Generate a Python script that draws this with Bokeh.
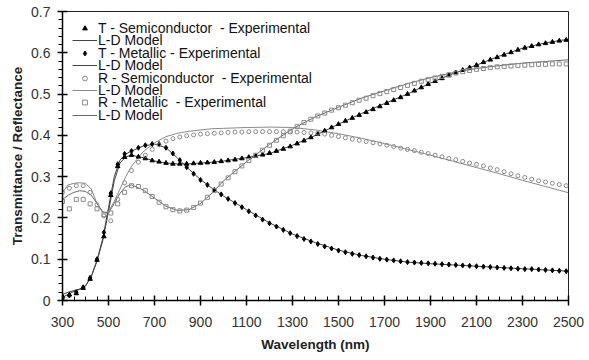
from bokeh.plotting import figure
from bokeh.models import Range1d, FixedTicker, Legend, LegendItem, CustomJSTickFormatter
from bokeh.embed import file_html
from bokeh.resources import INLINE

# ---------------- data ----------------
wl_exp = list(range(300, 2500, 30))  # experimental sampling wavelengths (nm)

t_semi_exp = [0.010, 0.014, 0.017, 0.030, 0.052, 0.098, 0.155, 0.255, 0.325, 0.347,
              0.352, 0.348, 0.344, 0.339, 0.336, 0.333, 0.331, 0.331, 0.331, 0.332,
              0.333, 0.334, 0.335, 0.337, 0.339, 0.341, 0.344, 0.347, 0.350, 0.353,
              0.357, 0.362, 0.367, 0.373, 0.380, 0.387, 0.395, 0.403, 0.411, 0.419,
              0.427, 0.435, 0.442, 0.449, 0.456, 0.463, 0.470, 0.478, 0.485, 0.492,
              0.500, 0.508, 0.516, 0.524, 0.531, 0.538, 0.545, 0.552, 0.558, 0.564,
              0.570, 0.577, 0.583, 0.589, 0.595, 0.601, 0.607, 0.612, 0.616, 0.620,
              0.623, 0.626, 0.629, 0.631]

t_met_exp = [0.004, 0.012, 0.020, 0.032, 0.055, 0.100, 0.165, 0.260, 0.330, 0.355,
             0.362, 0.370, 0.376, 0.379, 0.379, 0.370, 0.356, 0.340, 0.323, 0.307,
             0.292, 0.280, 0.268, 0.257, 0.246, 0.236, 0.226, 0.216, 0.206, 0.196,
             0.187, 0.179, 0.171, 0.163, 0.156, 0.149, 0.143, 0.137, 0.131, 0.126,
             0.121, 0.117, 0.113, 0.110, 0.107, 0.104, 0.101, 0.099, 0.097, 0.095,
             0.093, 0.092, 0.091, 0.090, 0.089, 0.088, 0.087, 0.086, 0.085, 0.084,
             0.083, 0.082, 0.081, 0.080, 0.079, 0.078, 0.077, 0.076, 0.076, 0.075,
             0.074, 0.073, 0.072, 0.071]

r_semi_exp = [0.262, 0.272, 0.278, 0.278, 0.262, 0.232, 0.205, 0.193, 0.245, 0.285,
              0.315, 0.335, 0.352, 0.366, 0.377, 0.386, 0.392, 0.396, 0.399, 0.401,
              0.403, 0.404, 0.405, 0.406, 0.407, 0.408, 0.408, 0.409, 0.409, 0.409,
              0.409, 0.409, 0.409, 0.408, 0.408, 0.407, 0.406, 0.405, 0.403, 0.400,
              0.397, 0.394, 0.391, 0.388, 0.385, 0.382, 0.379, 0.376, 0.373, 0.369,
              0.366, 0.363, 0.359, 0.356, 0.352, 0.348, 0.344, 0.341, 0.337, 0.333,
              0.330, 0.326, 0.321, 0.317, 0.312, 0.307, 0.302, 0.298, 0.294, 0.290,
              0.287, 0.284, 0.281, 0.278]

r_met_exp = [0.240, 0.222, 0.245, 0.245, 0.234, 0.222, 0.208, 0.212, 0.234, 0.262,
             0.278, 0.276, 0.266, 0.252, 0.238, 0.227, 0.220, 0.217, 0.219, 0.225,
             0.236, 0.250, 0.266, 0.282, 0.297, 0.312, 0.326, 0.339, 0.352, 0.364,
             0.376, 0.388, 0.399, 0.410, 0.421, 0.431, 0.439, 0.447, 0.454, 0.461,
             0.467, 0.473, 0.479, 0.485, 0.490, 0.496, 0.501, 0.506, 0.511, 0.516,
             0.521, 0.526, 0.531, 0.535, 0.539, 0.543, 0.547, 0.551, 0.554, 0.557,
             0.560, 0.562, 0.564, 0.566, 0.567, 0.568, 0.569, 0.570, 0.571, 0.572,
             0.572, 0.573, 0.573, 0.573]

wl_mod = [300, 325, 350, 375, 400, 425, 450, 475, 500, 525, 550, 575, 600,
          650, 700, 750, 800, 850, 900, 950, 1000,
          1100, 1200, 1300, 1400, 1500, 1600, 1700, 1800, 1900, 2000,
          2100, 2200, 2300, 2400, 2500]

t_semi_mod = [0.015, 0.020, 0.024, 0.028, 0.035, 0.058, 0.095, 0.145, 0.215, 0.290, 0.333, 0.348, 0.352,
              0.346, 0.338, 0.333, 0.331, 0.331, 0.333, 0.335, 0.338,
              0.346, 0.356, 0.376, 0.400, 0.427, 0.453, 0.477, 0.500, 0.527, 0.550,
              0.570, 0.592, 0.611, 0.624, 0.633]

t_met_mod = [0.008, 0.015, 0.022, 0.027, 0.036, 0.058, 0.098, 0.150, 0.225, 0.300, 0.340, 0.355, 0.362,
             0.374, 0.379, 0.370, 0.345, 0.318, 0.293, 0.272, 0.253,
             0.220, 0.188, 0.161, 0.140, 0.122, 0.109, 0.100, 0.093, 0.089, 0.086,
             0.083, 0.080, 0.077, 0.074, 0.071]

r_semi_mod = [0.262, 0.280, 0.284, 0.285, 0.284, 0.270, 0.235, 0.212, 0.215, 0.240, 0.270, 0.300, 0.325,
              0.360, 0.382, 0.397, 0.405, 0.410, 0.413, 0.416, 0.417,
              0.419, 0.420, 0.419, 0.413, 0.404, 0.393, 0.380, 0.366, 0.352, 0.337,
              0.322, 0.307, 0.291, 0.276, 0.261]

r_met_mod = [0.245, 0.255, 0.262, 0.266, 0.264, 0.255, 0.235, 0.215, 0.212, 0.235, 0.260, 0.276, 0.280,
             0.268, 0.248, 0.228, 0.218, 0.220, 0.235, 0.260, 0.290,
             0.336, 0.378, 0.416, 0.445, 0.468, 0.490, 0.508, 0.525, 0.540, 0.552,
             0.562, 0.569, 0.575, 0.579, 0.583]

x_ticks = [300, 500, 700, 900, 1100, 1300, 1500, 1700, 1900, 2100, 2300, 2500]
x_minor = list(range(300, 2501, 50))
y_ticks = [0, 0.1, 0.2, 0.3, 0.4, 0.5, 0.6, 0.7]
y_minor = [i / 50 for i in range(0, 36)]

labels = ["T - Semiconductor  - Experimental", "L-D Model",
          "T - Metallic - Experimental", "L-D Model",
          "R - Semiconductor  - Experimental", "L-D Model",
          "R - Metallic  - Experimental", "L-D Model"]

FONT = "Liberation Sans"

# ---------------- figure ----------------
FRAME_TOP, FRAME_BOTTOM = 11, 300
p = figure(width=589, height=360, output_backend="svg", toolbar_location=None,
           x_range=Range1d(300, 2500), y_range=Range1d(0, 0.7),
           min_border_left=62, min_border_right=21, min_border_top=FRAME_TOP,
           min_border_bottom=360 - FRAME_BOTTOM)
p.grid.visible = False
p.outline_line_color = "#222222"
p.outline_line_width = 1
p.background_fill_color = "white"
p.border_fill_color = "white"

# model lines
l1 = p.line(wl_mod, t_semi_mod, line_color="#444444", line_width=1)
l2 = p.line(wl_mod, t_met_mod, line_color="#444444", line_width=1)
l3 = p.line(wl_mod, r_semi_mod, line_color="#8a8a8a", line_width=1)
l4 = p.line(wl_mod, r_met_mod, line_color="#6a6a6a", line_width=1)

# experimental markers
s1 = p.scatter(wl_exp, t_semi_exp, marker="triangle", size=4.5,
               fill_color="black", line_color="black")
s2 = p.scatter(wl_exp, t_met_exp, marker="diamond", size=5,
               fill_color="black", line_color="black")
s3 = p.scatter(wl_exp, r_semi_exp, marker="circle", size=4,
               fill_color=None, line_color="#8a8a8a", line_width=1)
s4 = p.scatter(wl_exp, r_met_exp, marker="square", size=4,
               fill_color=None, line_color="#8a8a8a", line_width=1)

# axes
p.xaxis.ticker = FixedTicker(ticks=x_ticks, minor_ticks=x_minor)
p.yaxis.ticker = FixedTicker(ticks=y_ticks, minor_ticks=y_minor)
p.yaxis.formatter = CustomJSTickFormatter(code="return Math.abs(tick) < 1e-9 ? '0' : tick.toFixed(1);")
p.xaxis.axis_label = "Wavelength (nm)"
p.yaxis.axis_label = "Transmittance / Reflectance"
for ax in (p.xaxis, p.yaxis):
    ax.axis_line_color = "black"
    ax.axis_line_width = 1.5
    ax.major_tick_line_color = "black"
    ax.major_tick_line_width = 1.5
    ax.minor_tick_line_color = "black"
    ax.minor_tick_line_width = 1
    ax.major_tick_in = 5
    ax.major_tick_out = 5
    ax.major_label_text_font = FONT
    ax.major_label_text_font_size = "14px"
    ax.major_label_text_color = "#333333"
    ax.axis_label_text_font = FONT
    ax.axis_label_text_font_size = "13.5px"
    ax.axis_label_text_font_style = "bold"
    ax.axis_label_text_color = "#222222"
p.xaxis.minor_tick_in = 4
p.xaxis.minor_tick_out = 0
p.yaxis.minor_tick_in = 0
p.yaxis.minor_tick_out = 4
p.xaxis.major_label_standoff = 11
p.xaxis.axis_label_standoff = 7
p.yaxis.major_label_standoff = 7
p.yaxis.axis_label_standoff = 3

# legend: one single-row legend per entry, stacked at a tight row pitch
renderers = [s1, l1, s2, l2, s3, l3, s4, l4]
ROW_H = 16          # height Bokeh gives one legend row at 14px text
FIRST_ROW_CENTER = 28
ROW_PITCH = 12.4
for i, (lab, r) in enumerate(zip(labels, renderers)):
    center = FIRST_ROW_CENTER + i * ROW_PITCH
    vy = FRAME_BOTTOM - (center + ROW_H / 2)
    lg = Legend(items=[LegendItem(label=lab, renderers=[r])],
                location=(10, vy), margin=0, padding=0, spacing=0,
                glyph_width=25, glyph_height=12, label_height=12, label_standoff=1,
                label_text_font=FONT, label_text_font_size="14px",
                label_text_color="#111111",
                border_line_color=None, background_fill_alpha=0)
    p.add_layout(lg)

open("out.html", "w").write(file_html(p, INLINE))
